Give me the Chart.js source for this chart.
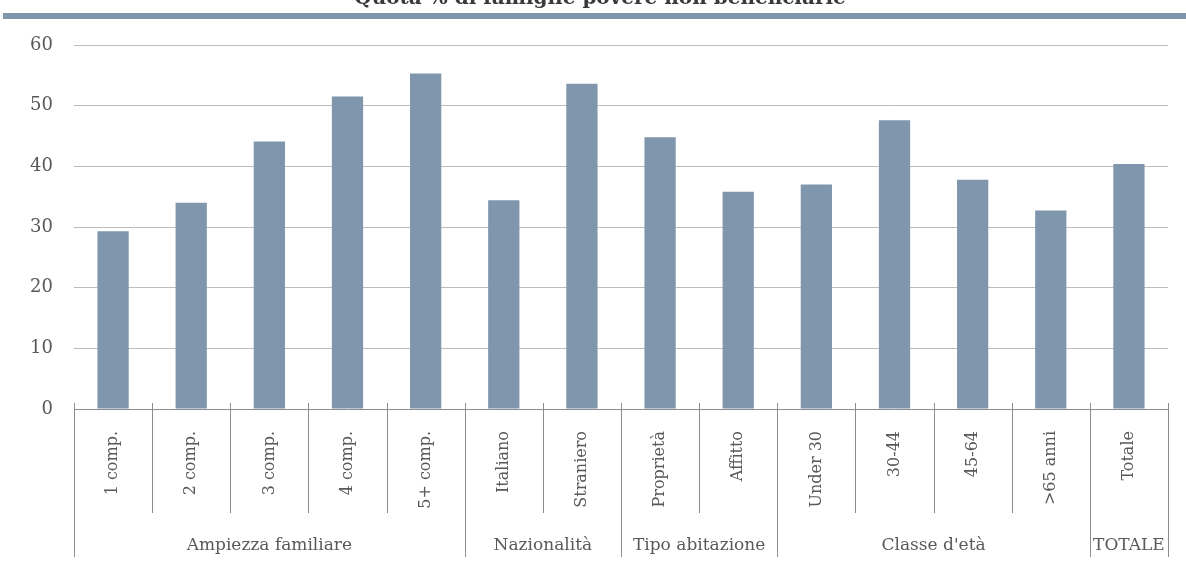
<!DOCTYPE html>
<html lang="it">
<head>
<meta charset="utf-8">
<title>Quota % di famiglie povere non beneficiarie</title>
<script src="https://cdn.jsdelivr.net/npm/chart.js@4/dist/chart.umd.min.js"></script>
<style>
    html, body { margin: 0; padding: 0; background: #fff; }
    #wrap { width: 1186px; height: 586px; }
</style>
</head>
<body>
<div id="wrap"><canvas id="chart" width="1186" height="586"></canvas></div>
<script>
// Categorie e valori (quota % di famiglie povere non beneficiarie)
const categories = ['1 comp.', '2 comp.', '3 comp.', '4 comp.', '5+ comp.', 'Italiano', 'Straniero',
    'Proprietà', 'Affitto', 'Under 30', '30-44', '45-64', '>65 anni', 'Totale'];
const values = [29.3, 34.0, 44.1, 51.5, 55.3, 34.4, 53.6, 44.8, 35.8, 37.0, 47.6, 37.8, 32.7, 40.4];

// Gruppi sotto l'asse x
const groupLabels = ['Ampiezza familiare', 'Nazionalità', 'Tipo abitazione', "Classe d'età", 'TOTALE'];
const groupSizes = [5, 2, 2, 4, 1];

// Asse y
const yMin = 0;
const yMax = 60;
const yStep = 10;

const chartTitle = 'Quota % di famiglie povere non beneficiarie';

const FONT = "'DejaVu Serif', serif";
const TEXT = '#595959';
const LINE = '#8c8c8c';
const BAR = '#7f96ad';

// Titolo, barra colorata, asse x e separatori dei gruppi
const decorPlugin = {
    id: 'decor',
    afterDatasetsDraw(chart) {
        const ctx = chart.ctx;
        const x = chart.scales.x;
        const area = chart.chartArea;
        const axisY = area.bottom;

        ctx.save();

        // titolo (tagliato in alto) e banda colorata
        ctx.fillStyle = '#3a3a3a';
        ctx.font = 'bold 20px ' + FONT;
        ctx.textAlign = 'center';
        ctx.textBaseline = 'alphabetic';
        ctx.fillText(chartTitle, 600, 4);
        ctx.fillStyle = BAR;
        ctx.fillRect(3, 13, chart.width - 3, 6);

        // linea dell'asse x
        ctx.strokeStyle = LINE;
        ctx.lineWidth = 1;
        ctx.beginPath();
        ctx.moveTo(area.left, axisY + 0.5);
        ctx.lineTo(area.right, axisY + 0.5);
        ctx.stroke();

        // bordi delle categorie e dei gruppi
        const groupEdges = [0];
        groupSizes.forEach(s => groupEdges.push(groupEdges[groupEdges.length - 1] + s));

        for (let k = 0; k <= categories.length; k++) {
            const px = Math.round(x.getPixelForValue(k - 0.5)) + 0.5;
            const bottom = groupEdges.includes(k) ? 557 : 513;
            ctx.beginPath();
            ctx.moveTo(px, axisY - 6);
            ctx.lineTo(px, bottom);
            ctx.stroke();
        }

        // etichette dei gruppi
        ctx.fillStyle = TEXT;
        ctx.font = '17px ' + FONT;
        ctx.textAlign = 'center';
        ctx.textBaseline = 'middle';
        groupLabels.forEach((label, i) => {
            const a = x.getPixelForValue(groupEdges[i] - 0.5);
            const b = x.getPixelForValue(groupEdges[i + 1] - 0.5);
            ctx.fillText(label, (a + b) / 2, 546);
        });

        ctx.restore();
    }
};

const config = {
    type: 'bar',
    data: {
        labels: categories,
        datasets: [{
            label: chartTitle,
            data: values,
            backgroundColor: BAR,
            borderWidth: 0,
            barPercentage: 0.4,
            categoryPercentage: 1
        }]
    },
    options: {
        responsive: false,
        animation: false,
        devicePixelRatio: 1,
        layout: {
            padding: { top: 45, right: 18, bottom: 47, left: 0 }
        },
        plugins: {
            legend: { display: false },
            title: { display: false },
            tooltip: { enabled: false }
        },
        scales: {
            x: {
                grid: { display: false },
                border: { display: false },
                ticks: {
                    minRotation: 90,
                    maxRotation: 90,
                    autoSkip: false,
                    padding: 14,
                    color: TEXT,
                    font: { family: FONT, size: 16 }
                },
                afterFit(scale) {
                    scale.height = 130;
                }
            },
            y: {
                min: yMin,
                max: yMax,
                border: { display: false },
                grid: {
                    drawTicks: false,
                    lineWidth: 1,
                    color: c => (c.tick && c.tick.value === 0) ? 'rgba(0,0,0,0)' : '#bdbdbd'
                },
                ticks: {
                    stepSize: yStep,
                    padding: 21,
                    color: TEXT,
                    font: { family: FONT, size: 18 }
                },
                afterFit(scale) {
                    scale.width = 74;
                }
            }
        }
    },
    plugins: [decorPlugin]
};

const chart = new Chart(document.getElementById('chart'), config);
</script>
</body>
</html>
